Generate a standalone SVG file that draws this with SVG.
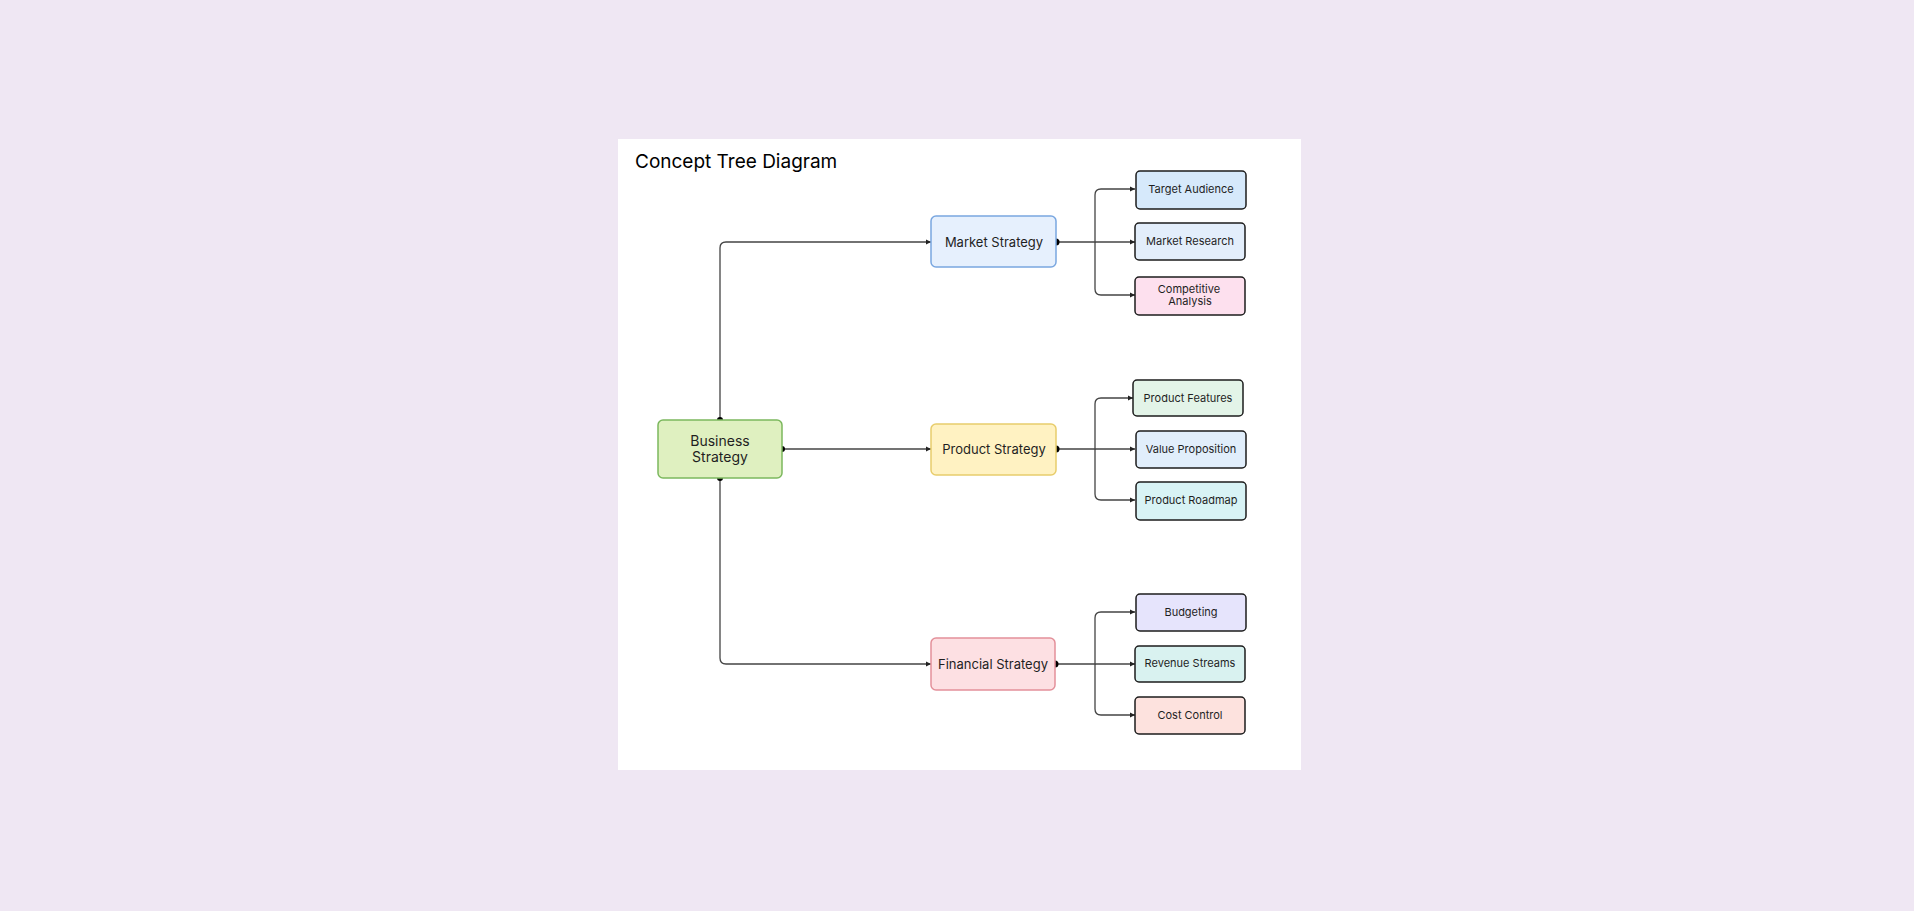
<svg xmlns="http://www.w3.org/2000/svg" width="1914" height="911" viewBox="0 0 1914 911">
<defs>
<marker id="ar" viewBox="0 0 6 6" refX="6" refY="3" markerWidth="4" markerHeight="4" orient="auto"><path d="M0,0L6,3L0,6z" fill="#222"/></marker>
<style>
text{font-family:Inter,"Noto Sans",sans-serif;fill:#1f1f1f;text-anchor:middle}
.m{font-size:13px}.l{font-size:11px}
.c{fill:none;stroke:#444;stroke-width:1.3;marker-end:url(#ar)}
.d{fill:#000}
.leaf{stroke:#1c1c1c;stroke-width:1.5}
</style>
</defs>
<rect width="1914" height="911" fill="#efe7f3"/>
<rect x="618" y="139" width="683" height="631" fill="#fff"/>
<text x="635" y="168" style="font-size:19px;text-anchor:start;fill:#000">Concept Tree Diagram</text>
<g id="connectors">
<path class="c" d="M720,420V248Q720,242 726,242H931"/>
<path class="c" d="M782,449H931"/>
<path class="c" d="M720,478V658Q720,664 726,664H931"/>
<path class="c" d="M1056,242H1095Q1095,242 1095,236V195Q1095,189 1101,189H1135"/>
<path class="c" d="M1095,242H1135"/>
<path class="c" d="M1095,242V289Q1095,295 1101,295H1135"/>
<path class="c" d="M1056,449H1095V404Q1095,398 1101,398H1133"/>
<path class="c" d="M1095,449H1135"/>
<path class="c" d="M1095,449V494Q1095,500 1101,500H1135"/>
<path class="c" d="M1055,664H1095V618Q1095,612 1101,612H1135"/>
<path class="c" d="M1095,664H1135"/>
<path class="c" d="M1095,664V709Q1095,715 1101,715H1135"/>
<circle class="d" cx="720" cy="420" r="3"/><circle class="d" cx="720" cy="478" r="3"/><circle class="d" cx="782" cy="449" r="3"/>
<circle class="d" cx="1056" cy="242" r="3.5"/><circle class="d" cx="1056" cy="449" r="3.5"/><circle class="d" cx="1055" cy="664" r="3.5"/>
</g>
<g id="business"><rect x="658" y="420" width="124" height="58" rx="5" fill="#dff0c0" stroke="#7cb85e" stroke-width="1.5"/><text x="720" y="446" style="font-size:14px">Business</text><text x="720" y="462" style="font-size:14px">Strategy</text></g>
<g id="market"><rect x="931" y="216" width="125" height="51" rx="5" fill="#e6f0fd" stroke="#7aa7e0" stroke-width="1.5"/><text class="m" x="994" y="247">Market Strategy</text></g>
<g id="product"><rect x="931" y="424" width="125" height="51" rx="5" fill="#fff2c2" stroke="#e8cd6c" stroke-width="1.5"/><text class="m" x="994" y="454">Product Strategy</text></g>
<g id="financial"><rect x="931" y="638" width="124" height="52" rx="5" fill="#fde0e3" stroke="#e3909a" stroke-width="1.5"/><text class="m" x="993" y="669">Financial Strategy</text></g>
<g id="target"><rect class="leaf" x="1136" y="171" width="110" height="38" rx="4" fill="#d6e9fb"/><text class="l" x="1191" y="193">Target Audience</text></g>
<g id="research"><rect class="leaf" x="1135" y="223" width="110" height="37" rx="4" fill="#e3eefb"/><text class="l" x="1190" y="245">Market Research</text></g>
<g id="competitive"><rect class="leaf" x="1135" y="277" width="110" height="38" rx="4" fill="#fde0ee"/><text class="l" x="1189" y="293">Competitive</text><text class="l" x="1190" y="305">Analysis</text></g>
<g id="features"><rect class="leaf" x="1133" y="380" width="110" height="36" rx="4" fill="#e3f4e8"/><text class="l" x="1188" y="402">Product Features</text></g>
<g id="value"><rect class="leaf" x="1136" y="431" width="110" height="37" rx="4" fill="#e1eefb"/><text class="l" x="1191" y="453">Value Proposition</text></g>
<g id="roadmap"><rect class="leaf" x="1136" y="482" width="110" height="38" rx="4" fill="#d8f3f5"/><text class="l" x="1191" y="504">Product Roadmap</text></g>
<g id="budgeting"><rect class="leaf" x="1136" y="594" width="110" height="37" rx="4" fill="#e6e4fc"/><text class="l" x="1191" y="616">Budgeting</text></g>
<g id="revenue"><rect class="leaf" x="1135" y="646" width="110" height="36" rx="4" fill="#d9f2f0"/><text class="l" x="1190" y="667">Revenue Streams</text></g>
<g id="cost"><rect class="leaf" x="1135" y="697" width="110" height="37" rx="4" fill="#fde2de"/><text class="l" x="1190" y="719">Cost Control</text></g>
</svg>
